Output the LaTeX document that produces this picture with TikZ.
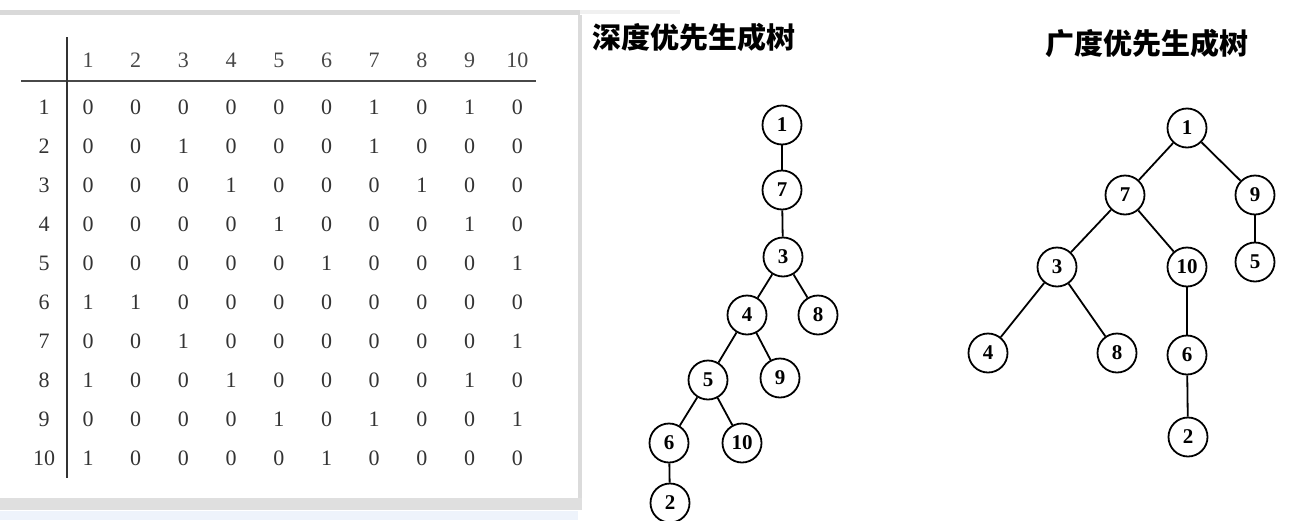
\documentclass[tikz,border=0pt]{standalone}
\usepackage{fontspec}
\setmainfont{Liberation Serif}
\newfontfamily\cjk{Noto Sans CJK SC}
\definecolor{cellgray}{HTML}{333333}
\definecolor{headgray}{HTML}{484848}
\definecolor{stripblue}{HTML}{EEF3FB}
\begin{document}
\begin{tikzpicture}[x=1pt, y=-1pt,
    cell/.style={text=cellgray, inner sep=0pt, font=\fontsize{22}{26}\selectfont},
    head/.style={cell, text=headgray},
    vertex/.style={circle, draw, line width=1.8pt, minimum size=39pt, inner sep=0pt,
                   font=\fontsize{21}{24}\selectfont\bfseries},
    treeedge/.style={line width=1.8pt},
    title/.style={anchor=west, inner sep=0pt, font=\cjk\bfseries\fontsize{29}{32}\selectfont}]
    \useasboundingbox (0,0) rectangle (1299,520);
    \fill[white] (0,0) rectangle (1299,520);
    % Matrix panel with its frame
    \fill[gray!30] (0,10) rectangle (580,15);
    \fill[gray!12] (580,10) rectangle (680,14);
    \fill[gray!28] (578,15) rectangle (582,498);
    \fill[gray!25] (0,498) rectangle (582,510);
    \fill[stripblue] (0,511) rectangle (578,520);
    % Column and row headers
    \foreach \c in {1,...,10} {
        \node[head] (h-\c) at ({88+47.7*(\c-1)},60) {\c};
        \node[cell] (r-\c) at (44,{107+39*(\c-1)}) {\c};
    }
    \draw[line width=1.6pt, headgray] (21,81) -- (536,81);
    \draw[line width=1.4pt, cellgray] (67,37) -- (67,478);
    % Adjacency matrix entries
    \foreach \row [count=\r] in {{0,0,0,0,0,0,1,0,1,0}, {0,0,1,0,0,0,1,0,0,0},
                                 {0,0,0,1,0,0,0,1,0,0}, {0,0,0,0,1,0,0,0,1,0},
                                 {0,0,0,0,0,1,0,0,0,1}, {1,1,0,0,0,0,0,0,0,0},
                                 {0,0,1,0,0,0,0,0,0,1}, {1,0,0,1,0,0,0,0,1,0},
                                 {0,0,0,0,1,0,1,0,0,1}, {1,0,0,0,0,1,0,0,0,0}} {
        \foreach \v [count=\c] in \row {
            \node[cell] (m-\r-\c) at ({88+47.7*(\c-1)},{107+39*(\r-1)}) {\v};
        }
    }
    % Depth-first spanning tree
    \node[title] (dfstitle) at (592,37) {深度优先生成树};
    \foreach \x/\y/\n in {782/125/1, 782/190/7, 783/257/3, 747/315/4, 818/315/8,
                          708/380/5, 780/378/9, 669/443/6, 742/443/10, 670/503/2} {
        \node[vertex] (d\n) at (\x,\y) {\n};
    }
    \foreach \a/\b in {1/7, 7/3, 3/4, 3/8, 4/5, 4/9, 5/6, 5/10, 6/2}
    {   \draw[treeedge] (d\a) -- (d\b);}
    % Breadth-first spanning tree
    \node[title] (bfstitle) at (1045,43) {广度优先生成树};
    \foreach \x/\y/\n in {1187/128/1, 1125/195/7, 1255/195/9, 1057/267/3, 1187/267/10,
                          1255/262/5, 988/353/4, 1117/353/8, 1187/355/6, 1188/437/2} {
        \node[vertex] (b\n) at (\x,\y) {\n};
    }
    \foreach \a/\b in {1/7, 1/9, 7/3, 7/10, 9/5, 3/4, 3/8, 10/6, 6/2}
    {   \draw[treeedge] (b\a) -- (b\b);}
\end{tikzpicture}
\end{document}
